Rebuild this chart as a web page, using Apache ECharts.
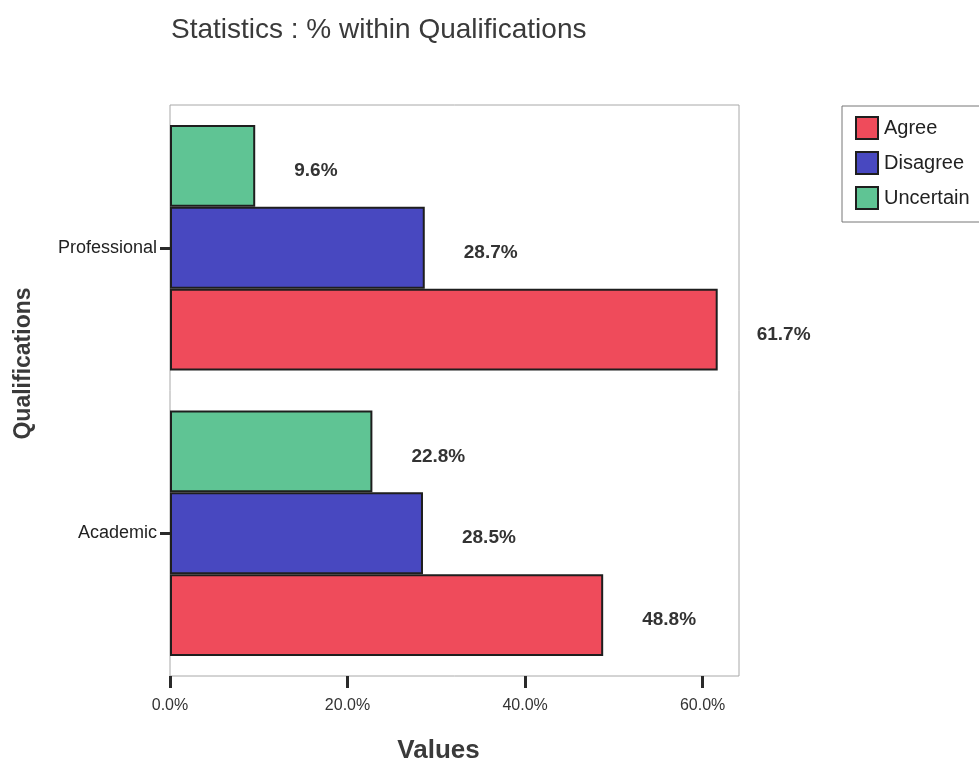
<!DOCTYPE html>
<html>
<head>
<meta charset="utf-8">
<title>Statistics : % within Qualifications</title>
<script src="https://cdn.jsdelivr.net/npm/echarts@6/dist/echarts.min.js"></script>
<style>
  html, body { margin: 0; padding: 0; background: #ffffff; }
  #chart { width: 979px; height: 769px; }
</style>
</head>
<body>
<div id="chart"></div>
<script>
// Qualification groups, top to bottom
const categories = ['Professional', 'Academic'];
// Percent within each qualification group
const agree     = [61.7, 48.8];
const disagree  = [28.7, 28.5];
const uncertain = [9.6, 22.8];
// Tick values on the percentage axis
const xTicks = [0, 20, 40, 60];

const FONT = '"Liberation Sans", Arial, sans-serif';
const colors = { Agree: '#ef4b5b', Disagree: '#4848c0', Uncertain: '#5fc494' };

function barSeries(name, values) {
  return {
    name: name,
    type: 'bar',
    data: values,
    barGap: '0%',
    barCategoryGap: '14%',
    itemStyle: { color: colors[name], borderColor: '#1e1e1e', borderWidth: 2 },
    label: {
      show: true,
      position: 'right',
      distance: 39,
      offset: [0, 5],
      formatter: p => p.value.toFixed(1) + '%',
      fontFamily: FONT,
      fontWeight: 'bold',
      fontSize: 19,
      color: '#333'
    }
  };
}

const chart = echarts.init(document.getElementById('chart'), null, { renderer: 'canvas' });
chart.setOption({
  animation: false,
  backgroundColor: '#ffffff',
  title: {
    text: 'Statistics : % within Qualifications',
    left: 166,
    top: 11,
    textStyle: { fontFamily: FONT, fontSize: 28, fontWeight: 'normal', color: '#3a3a3a' }
  },
  legend: {
    data: ['Agree', 'Disagree', 'Uncertain'],
    orient: 'vertical',
    left: 842,
    top: 106,
    padding: [10, 40, 12, 13],
    itemWidth: 22,
    itemHeight: 22,
    itemGap: 11,
    icon: 'rect',
    borderColor: '#777',
    borderWidth: 1,
    textStyle: { fontFamily: FONT, fontSize: 20, color: '#222', padding: [0, 0, 0, 1] }
  },
  grid: {
    left: 170,
    top: 105,
    right: 240,
    bottom: 86,
    show: true,
    borderColor: '#a8a8a8',
    borderWidth: 1,
    containLabel: false
  },
  xAxis: {
    type: 'value',
    min: 0,
    max: 64.1,
    name: 'Values',
    nameLocation: 'middle',
    nameGap: 62,
    nameTextStyle: {
      fontFamily: FONT, fontSize: 26, fontWeight: 'bold', color: '#3a3a3a',
      padding: [0, 32, 0, 0]
    },
    axisLine: { show: false },
    splitLine: { show: false },
    axisTick: {
      show: true,
      length: 12,
      customValues: xTicks,
      lineStyle: { color: '#2a2a2a', width: 3 }
    },
    axisLabel: {
      customValues: xTicks,
      margin: 22,
      formatter: v => v.toFixed(1) + '%',
      fontFamily: FONT,
      fontSize: 16,
      color: '#333'
    }
  },
  yAxis: {
    type: 'category',
    data: categories,
    inverse: true,
    name: 'Qualifications',
    nameLocation: 'middle',
    nameGap: 135,
    nameRotate: 90,
    nameTextStyle: {
      fontFamily: FONT, fontSize: 23, fontWeight: 'bold', color: '#3a3a3a',
      padding: [0, 0, 0, 54]
    },
    axisLine: { show: false },
    axisTick: {
      show: true,
      alignWithLabel: true,
      length: 10,
      lineStyle: { color: '#2a2a2a', width: 3 }
    },
    axisLabel: {
      margin: 13,
      fontFamily: FONT,
      fontSize: 18,
      color: '#222'
    }
  },
  series: [
    barSeries('Uncertain', uncertain),
    barSeries('Disagree', disagree),
    barSeries('Agree', agree)
  ]
});
</script>
</body>
</html>
